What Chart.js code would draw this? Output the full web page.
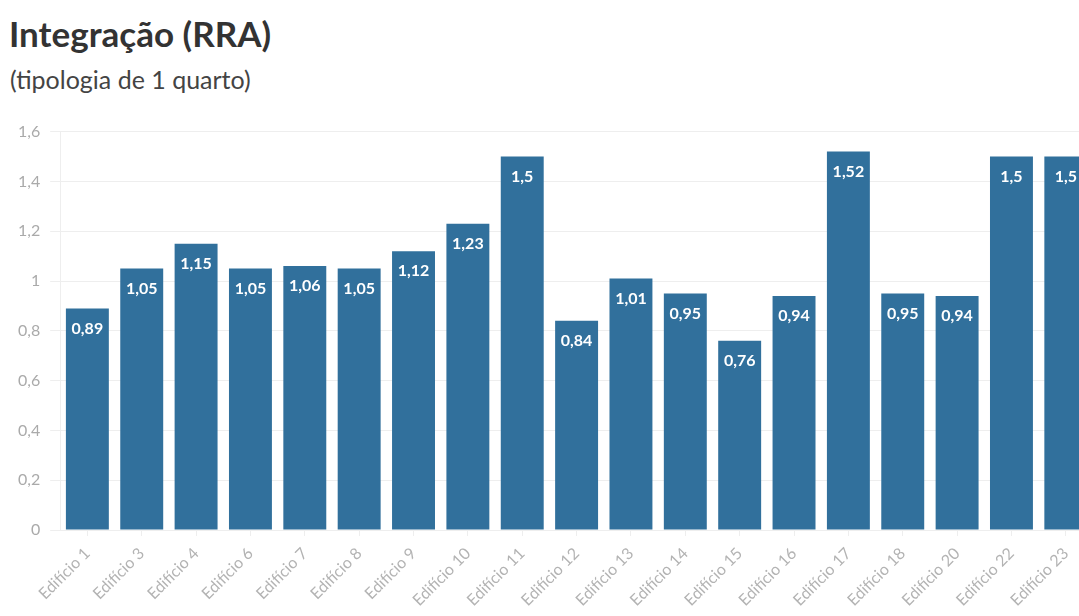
<!DOCTYPE html>
<html>
<head>
<meta charset="utf-8">
<script src="https://cdn.jsdelivr.net/npm/chart.js@4.4.1/dist/chart.umd.min.js"></script>
<style>
  html, body { margin:0; padding:0; background:#fff; overflow:hidden; width:1079px; height:616px; }
  #title { position:absolute; left:9px; top:12px; font:700 35px Lato, "Open Sans", sans-serif; color:#333; }
  #subtitle { position:absolute; left:10px; top:64px; font:400 25px Lato, "Open Sans", sans-serif; color:#444; }
  #wrap { position:absolute; left:0; top:112px; width:1100px; height:506px; }
</style>
</head>
<body>
<div id="title">Integração (RRA)</div>
<div id="subtitle">(tipologia de 1 quarto)</div>
<div id="wrap"><canvas id="c"></canvas></div>
<script>
// dados
const CATEGORIES = ["Edifício 1","Edifício 3","Edifício 4","Edifício 6","Edifício 7","Edifício 8","Edifício 9","Edifício 10","Edifício 11","Edifício 12","Edifício 13","Edifício 14","Edifício 15","Edifício 16","Edifício 17","Edifício 18","Edifício 20","Edifício 22","Edifício 23"];
const VALUES = [0.89,1.05,1.15,1.05,1.06,1.05,1.12,1.23,1.5,0.84,1.01,0.95,0.76,0.94,1.52,0.95,0.94,1.5,1.5];
const Y_TICKS = [0,0.2,0.4,0.6,0.8,1,1.2,1.4,1.6];

const fmt = (v) => String(v).replace(".", ",");

// rótulos brancos dentro das barras
const barLabels = {
  id: "barLabels",
  afterDatasetsDraw(chart){
    const ctx = chart.ctx;
    const meta = chart.getDatasetMeta(0);
    ctx.save();
    ctx.font = "700 16px Lato, 'Open Sans', sans-serif";
    ctx.fillStyle = "#fff";
    ctx.textAlign = "center";
    ctx.textBaseline = "middle";
    meta.data.forEach((bar, i) => {
      ctx.fillText(fmt(VALUES[i]), bar.x, bar.y + 20);
    });
    ctx.restore();
  }
};

new Chart(document.getElementById("c").getContext("2d"), {
  type: "bar",
  data: {
    labels: CATEGORIES,
    datasets: [{ data: VALUES, backgroundColor: "#31709c", categoryPercentage: 1, barPercentage: 0.79 }]
  },
  options: {
    responsive: true,
    maintainAspectRatio: false,
    animation: false,
    layout: { padding: { left: 8, right: 7, top: 12, bottom: 0 } },
    plugins: { legend: { display:false }, tooltip: { enabled:false } },
    scales: {
      x: {
        grid: { display: true, drawOnChartArea: false, offset: false, tickLength: 6, color: "#eee" },
        border: { color: "#eee" },
        ticks: { minRotation: 45, maxRotation: 45, color: "#b3b3b3", padding: 8, font: { family: "Lato, 'Open Sans', sans-serif", size: 16 } }
      },
      y: {
        min: 0, max: 1.6,
        afterBuildTicks: (axis) => { axis.ticks = Y_TICKS.map(v => ({ value: v })); },
        grid: { color: "#eee", tickLength: 10 },
        border: { color: "#eee" },
        ticks: { color: "#aaa", padding: 10, callback: (v) => fmt(v), font: { family: "Lato, 'Open Sans', sans-serif", size: 16 } }
      }
    }
  },
  plugins: [barLabels]
});
</script>
</body>
</html>
